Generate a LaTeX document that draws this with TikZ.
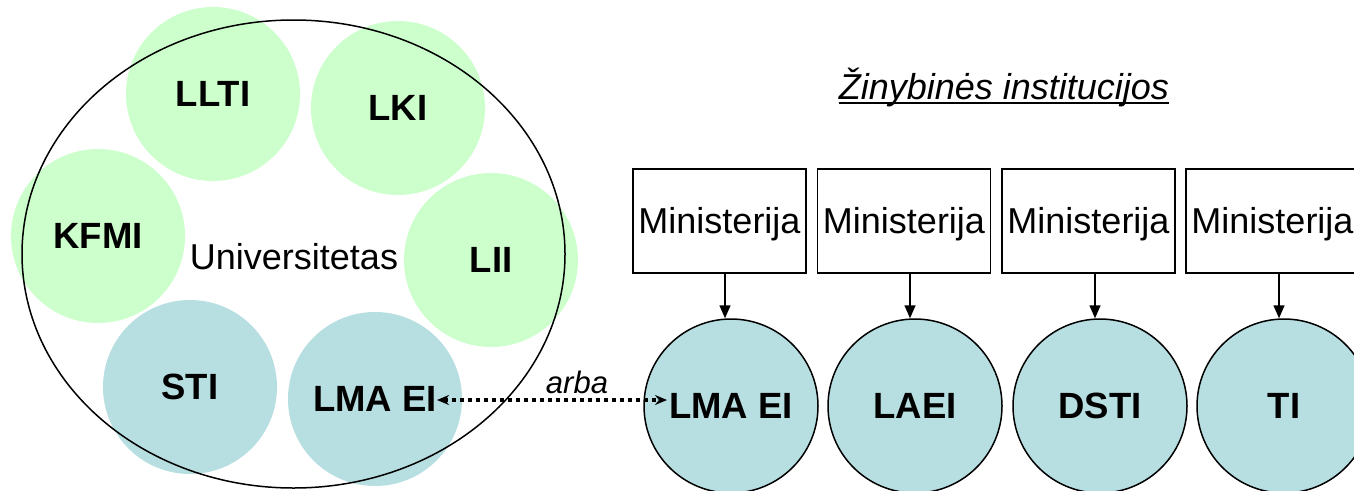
\documentclass[tikz,border=0pt]{standalone}
\usepackage{fontspec}
\setmainfont{Liberation Sans}
\usetikzlibrary{arrows.meta,shapes.geometric}
\definecolor{lgreen}{RGB}{204,255,204}
\definecolor{lblue}{RGB}{183,222,225}
\begin{document}
\begin{tikzpicture}[x=1pt,y=-1pt,
  inst/.style={circle, minimum size=174pt, inner sep=0pt, font=\fontsize{36.5}{40}\selectfont\bfseries},
  ginst/.style={inst, fill=lgreen},
  binst/.style={inst, fill=lblue},
  rinst/.style={inst, fill=lblue, draw=black, line width=1.5pt},
  minbox/.style={draw, line width=1.5pt, minimum width=173pt, minimum height=104pt, inner sep=0pt, text height=25.8pt, text depth=0pt, font=\fontsize{36}{40}\selectfont},
  arr/.style={line width=1.5pt, -{Triangle[length=13pt,width=11pt]}},
  dotarr/.style={line width=4pt, dash pattern=on 4pt off 4pt, {Stealth[length=12pt,width=10pt]}-{Stealth[length=12pt,width=10pt]}}
]
\useasboundingbox (0,0) rectangle (1354,490);
\clip (0,0) rectangle (1354,490);
% university members
\node[ginst] (llti) at (213,94) {LLTI};
\node[ginst] (lki) at (398,108) {LKI};
\node[ginst] (kfmi) at (98,236) {KFMI};
\node[ginst] (lii) at (491,260) {LII};
\node[binst] (sti) at (190,387) {STI};
\node[binst] (lmaL) at (375,399) {LMA EI};
\node[ellipse, draw, line width=1.5pt, minimum width=543pt, minimum height=468pt, inner sep=0pt] (univ) at (293.5,254) {};
\node[font=\fontsize{36}{40}\selectfont, inner sep=0pt] (univtxt) at (294,257) {Universitetas};
% title
\node[font=\fontsize{36}{40}\selectfont\itshape, inner sep=0pt, anchor=base] (title) at (1004,99) {Žinybinės institucijos};
\draw[line width=2pt] ([yshift=-4pt]title.base west) -- ([yshift=-4pt]title.base east);
% ministries
\node[minbox] (m1) at (719.5,221) {Ministerija};
\node[minbox] (m2) at (904,221) {Ministerija};
\node[minbox] (m3) at (1088.5,221) {Ministerija};
\node[minbox] (m4) at (1272.5,221) {Ministerija};
% institutes
\node[rinst] (lmaR) at (731,406) {LMA EI};
\node[rinst] (laei) at (915,406) {LAEI};
\node[rinst] (dsti) at (1100,406) {DSTI};
\node[rinst] (ti) at (1284,406) {TI};
\draw[arr] ([xshift=5.5pt]m1.south) -- ([xshift=5.5pt]m1.south |- lmaR.north);
\draw[arr] ([xshift=6pt]m2.south) -- ([xshift=6pt]m2.south |- laei.north);
\draw[arr] ([xshift=6.5pt]m3.south) -- ([xshift=6.5pt]m3.south |- dsti.north);
\draw[arr] ([xshift=6.5pt]m4.south) -- ([xshift=6.5pt]m4.south |- ti.north);
% or link
\coordinate (lt) at ([xshift=62pt,yshift=-1pt]lmaL.center);
\coordinate (rt) at ([xshift=-64pt]lmaR.center);
\draw[dotarr] (lt) -- (lt -| rt);
\node[font=\fontsize{31}{36}\selectfont\itshape, inner sep=0pt, anchor=base] (arba) at (577,393) {arba};
\end{tikzpicture}
\end{document}
